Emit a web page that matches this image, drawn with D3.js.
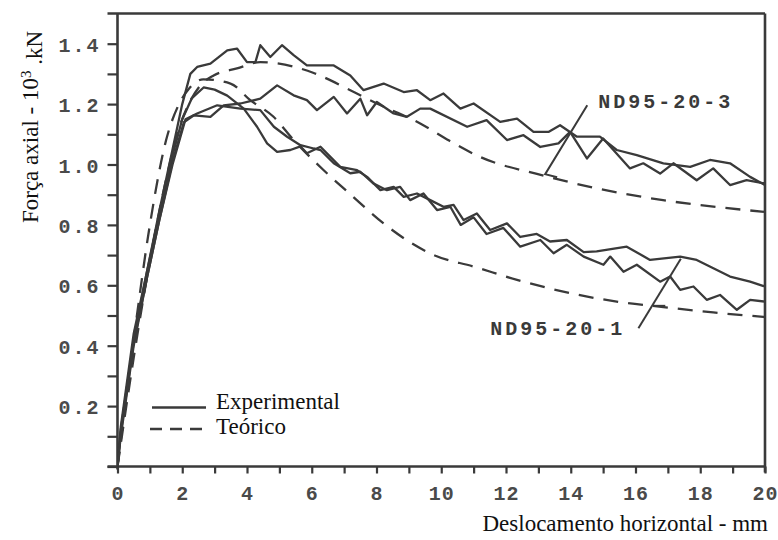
<!DOCTYPE html>
<html><head><meta charset="utf-8">
<script src="https://cdn.jsdelivr.net/npm/d3@7"></script>
<style>
body{margin:0;background:#fff;}
svg{display:block;}
</style></head>
<body>
<svg id="chart" width="778" height="540"></svg>
<script>
// ---------------- data ----------------
const xTickValues = d3.range(0, 21, 1);
const xTickLabels = [0, 2, 4, 6, 8, 10, 12, 14, 16, 18, 20];
const yTickValues = d3.range(0, 1.45, 0.1).map(v => +v.toFixed(1));
const yTickLabels = [0.2, 0.4, 0.6, 0.8, 1.0, 1.2, 1.4];

// Experimental ND95-20-3 (two tests)
const expND3a = [[0,0],[0.1,0.12],[0.5,0.42],[0.9,0.64],[1.3,0.85],[1.7,1.05],[2.0,1.2],[2.25,1.3],[2.46,1.323],[2.87,1.334],[3.39,1.378],[3.69,1.384],[4.0,1.339],[4.26,1.339],[4.41,1.395],[4.72,1.356],[5.08,1.395],[5.44,1.362],[5.85,1.328],[6.68,1.328],[7.19,1.295],[7.6,1.246],[8.22,1.268],[8.84,1.24],[9.25,1.246],[9.66,1.213],[10.07,1.235],[10.59,1.185],[11.0,1.202],[11.82,1.141],[12.34,1.152],[12.85,1.108],[13.31,1.108],[13.67,1.13],[14.19,1.092],[14.9,1.092],[15.42,1.048],[16.04,1.031],[16.86,1.004],[17.69,0.992],[18.3,1.015],[18.92,1.004],[19.54,0.959],[20,0.932]];
const expND3b = [[0,0],[0.1,0.1],[0.5,0.4],[0.9,0.62],[1.3,0.82],[1.7,1.01],[2.05,1.14],[2.36,1.163],[2.87,1.158],[3.28,1.196],[3.8,1.202],[4.41,1.218],[4.93,1.262],[5.44,1.229],[5.85,1.213],[6.16,1.18],[6.68,1.224],[7.09,1.169],[7.5,1.218],[7.71,1.163],[8.01,1.207],[8.53,1.169],[8.94,1.158],[9.35,1.185],[9.66,1.185],[10.8,1.125],[11.4,1.147],[12.03,1.081],[12.54,1.097],[13.06,1.058],[13.62,1.07],[13.98,1.108],[14.5,1.02],[15.0,1.086],[15.83,0.987],[16.24,1.004],[16.76,0.97],[17.17,1.004],[17.89,0.948],[18.4,0.987],[18.92,0.932],[19.43,0.948],[20,0.937]];
// Experimental ND95-20-1 (two tests)
const expND1a = [[0,0],[0.1,0.13],[0.5,0.44],[0.9,0.64],[1.3,0.84],[1.7,1.03],[2.0,1.15],[2.3,1.22],[2.66,1.255],[3.0,1.248],[3.39,1.228],[3.9,1.185],[4.31,1.125],[4.62,1.07],[4.93,1.042],[5.34,1.048],[5.65,1.06],[5.85,1.037],[6.27,1.059],[6.88,0.992],[7.4,0.981],[7.71,0.959],[8.12,0.915],[8.53,0.926],[8.84,0.893],[9.25,0.904],[9.66,0.882],[10.07,0.86],[10.38,0.866],[10.69,0.816],[11.1,0.838],[11.51,0.783],[12.03,0.805],[12.44,0.76],[12.95,0.77],[13.36,0.745],[13.88,0.75],[14.4,0.71],[14.8,0.712],[15.73,0.728],[16.45,0.684],[17.38,0.695],[17.89,0.684],[18.92,0.629],[19.54,0.612],[20,0.596]];
const expND1b = [[0,0],[0.1,0.11],[0.5,0.41],[0.9,0.62],[1.3,0.82],[1.7,1.0],[2.1,1.15],[2.46,1.169],[3.08,1.196],[3.8,1.185],[4.41,1.18],[4.83,1.125],[5.24,1.092],[5.65,1.064],[6.06,1.053],[6.27,1.048],[6.68,1.004],[7.19,0.971],[7.5,0.976],[7.91,0.937],[8.32,0.915],[8.73,0.926],[9.04,0.882],[9.45,0.904],[9.87,0.849],[10.28,0.86],[10.6,0.8],[11.0,0.825],[11.4,0.77],[11.92,0.79],[12.44,0.728],[13.06,0.75],[13.47,0.706],[13.88,0.734],[14.4,0.695],[15.01,0.668],[15.22,0.695],[15.63,0.645],[16.04,0.668],[16.76,0.612],[17.07,0.629],[17.38,0.585],[17.79,0.596],[18.2,0.552],[18.61,0.568],[19.13,0.519],[19.54,0.552],[20,0.546]];
// Theoretical
const teoND3 = [[0,0],[0.5,0.36],[1.0,0.68],[1.5,0.95],[1.9,1.12],[2.2,1.2],[2.56,1.262],[2.97,1.295],[3.69,1.318],[4.41,1.339],[4.93,1.335],[6.06,1.303],[7.19,1.246],[8.01,1.202],[9.35,1.136],[10.18,1.083],[11.2,1.025],[13.1,0.965],[14.8,0.921],[16.85,0.882],[20,0.843]];
const teoND1 = [[0,0],[0.5,0.42],[1.0,0.8],[1.5,1.08],[1.9,1.2],[2.2,1.25],[2.65,1.282],[3.49,1.268],[4.1,1.213],[4.82,1.158],[5.44,1.081],[6.37,0.981],[7.28,0.893],[8.22,0.805],[9.0,0.745],[9.77,0.70],[11,0.662],[12.34,0.618],[13.77,0.579],[15.42,0.546],[16.86,0.528],[18.4,0.51],[20,0.495]];

// annotations
const specimenNames = ["ND95-20-3", "ND95-20-1"];
const specimenLabelPos = [[14.85, 1.211], [11.51, 0.459]];
const leaderND3 = [[14.51, 1.196], [13.21, 0.968], [13.58, 0.958]];
const leaderND1 = [[16.09, 0.458], [17.40, 0.688]];
const leaderND1Foot = [[16.55, 0.532], [16.92, 0.532]];

const legendNames = ["Experimental", "Teórico"];
const xTitle = "Deslocamento horizontal - mm";

// ---------------- drawing ----------------
const svg = d3.select("#chart");
const x = d3.scaleLinear().domain([0, 20]).range([117.5, 765]);
const y = d3.scaleLinear().domain([0, 1.5]).range([466.5, 13.5]);
const ink = "#3a3a3a";

// Axes
const yAxis = d3.axisLeft(y).tickValues(yTickValues).tickSize(10).tickPadding(8)
  .tickFormat(d => yTickLabels.some(v => Math.abs(v - d) < 1e-6) ? d3.format(".1f")(d) : "");
const gy = svg.append("g").attr("transform", `translate(${x(0)},0)`).call(yAxis);
const xAxis = d3.axisBottom(x).tickValues(xTickValues).tickSize(7).tickPadding(12)
  .tickFormat(d => xTickLabels.includes(d) ? String(d) : "");
const gx = svg.append("g").attr("transform", `translate(0,${y(0)})`).call(xAxis);

[gx, gy].forEach(g => {
  g.select(".domain").remove();
  g.selectAll(".tick line").attr("stroke", ink).attr("stroke-width", 2.2);
  g.selectAll(".tick text")
    .attr("fill", "#4a4a4a")
    .style("font-family", "'Liberation Mono', 'DejaVu Sans Mono', monospace")
    .style("font-weight", "bold")
    .style("font-size", "20px");
});
gy.selectAll(".tick text").attr("dy", "0.38em").attr("x", -17).style("letter-spacing", "2px");
gx.selectAll(".tick text").attr("dy", "0.71em").style("letter-spacing", "1px");

// Frame
const frame = svg.append("g").attr("stroke", ink).attr("stroke-width", 2.6).attr("fill", "none");
frame.append("line").attr("x1", x(0) - 10).attr("x2", x(20)).attr("y1", y(1.5)).attr("y2", y(1.5));
frame.append("line").attr("x1", x(0) - 10).attr("x2", x(20)).attr("y1", y(0)).attr("y2", y(0));
frame.append("line").attr("x1", x(0)).attr("x2", x(0)).attr("y1", y(1.5)).attr("y2", y(0) + 3);
frame.append("line").attr("x1", x(20)).attr("x2", x(20)).attr("y1", y(1.5)).attr("y2", y(0) + 6);

// Curves
svg.append("clipPath").attr("id", "clip").append("rect")
  .attr("x", x(0)).attr("y", y(1.5)).attr("width", x(20) - x(0)).attr("height", y(0) - y(1.5));
const plot = svg.append("g").attr("clip-path", "url(#clip)");
const lineJag = d3.line().x(d => x(d[0])).y(d => y(d[1])).curve(d3.curveLinear);
const lineSmooth = d3.line().x(d => x(d[0])).y(d => y(d[1])).curve(d3.curveMonotoneX);

[expND3a, expND3b, expND1a, expND1b].forEach(s => {
  plot.append("path").attr("d", lineJag(s)).attr("fill", "none")
    .attr("stroke", ink).attr("stroke-width", 2.3).attr("stroke-linejoin", "round");
});
[teoND3, teoND1].forEach(s => {
  plot.append("path").attr("d", lineSmooth(s)).attr("fill", "none")
    .attr("stroke", ink).attr("stroke-width", 2.3).attr("stroke-dasharray", "15,10");
});

// Annotations
const lin = d3.line().x(d => x(d[0])).y(d => y(d[1]));
[leaderND3, leaderND1, leaderND1Foot].forEach(s => {
  svg.append("path").attr("d", lin(s)).attr("fill", "none").attr("stroke", ink).attr("stroke-width", 2);
});
specimenNames.forEach((n, i) => {
  svg.append("text").attr("x", x(specimenLabelPos[i][0])).attr("y", y(specimenLabelPos[i][1]))
    .attr("dy", "0.36em").attr("fill", "#3a3a3a")
    .style("font-family", "'Liberation Mono', 'DejaVu Sans Mono', monospace")
    .style("font-weight", "bold").style("font-size", "20px").style("letter-spacing", "3px")
    .text(n);
});

// Legend
const leg = svg.append("g");
leg.append("line").attr("x1", 152).attr("x2", 206).attr("y1", 407.5).attr("y2", 407.5)
  .attr("stroke", ink).attr("stroke-width", 2.3);
leg.append("line").attr("x1", 150).attr("x2", 204).attr("y1", 429).attr("y2", 429)
  .attr("stroke", ink).attr("stroke-width", 2.3).attr("stroke-dasharray", "12,8");
legendNames.forEach((n, i) => {
  leg.append("text").attr("x", 216).attr("y", 409 + i * 24.5)
    .style("font-family", "'Liberation Serif', 'Times New Roman', serif")
    .style("font-size", "23px").attr("fill", "#111").text(n);
});

// Axis titles
svg.append("text").attr("x", 768).attr("y", 531).attr("text-anchor", "end")
  .style("font-family", "'Liberation Serif', 'Times New Roman', serif")
  .style("font-size", "23px").attr("fill", "#111").text(xTitle);

const yt = svg.append("text").attr("transform", "translate(38,127) rotate(-90)")
  .attr("text-anchor", "middle")
  .style("font-family", "'Liberation Serif', 'Times New Roman', serif")
  .style("font-size", "23px").attr("fill", "#111");
yt.append("tspan").text("Força axial - 10");
yt.append("tspan").attr("dy", "-0.45em").style("font-size", "15px").text("3");
yt.append("tspan").attr("dy", "0.45em").text(" .kN");
</script>
</body></html>
